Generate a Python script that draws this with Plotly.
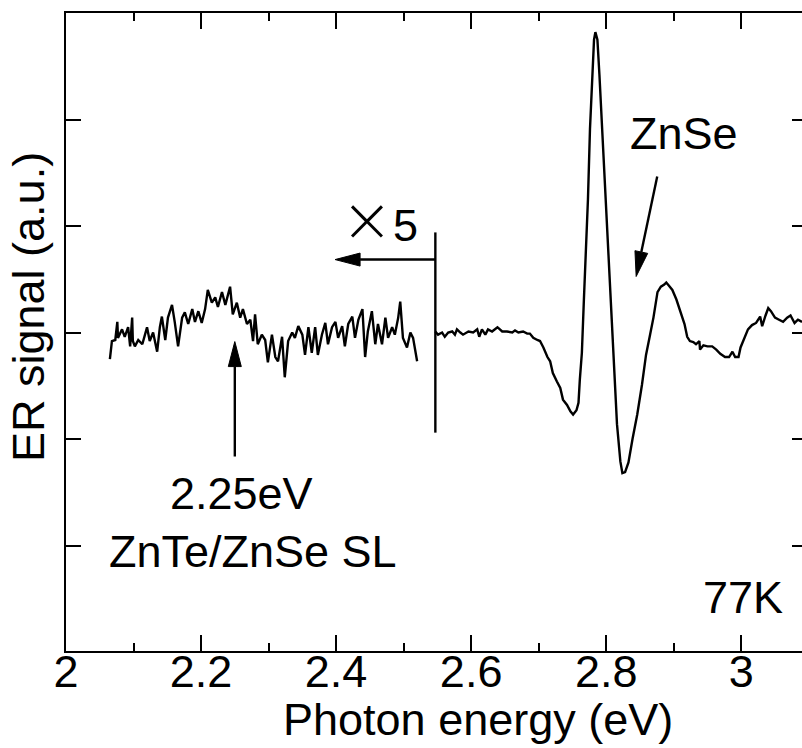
import plotly.graph_objects as go

# ---- data (photon energy in eV, ER signal in arbitrary units) ----
# low-energy part, shown magnified x5
sl_energy = [2.065, 2.068, 2.073, 2.076, 2.077, 2.083, 2.087, 2.092, 2.095, 2.098, 2.099, 2.102,
             2.107, 2.113, 2.117, 2.120, 2.124, 2.129, 2.135, 2.139, 2.142, 2.147, 2.151, 2.157,
             2.161, 2.166, 2.172, 2.176, 2.181, 2.187, 2.191, 2.196, 2.201, 2.206, 2.210, 2.216,
             2.221, 2.225, 2.231, 2.236, 2.243, 2.247, 2.253, 2.258, 2.262, 2.268, 2.273, 2.277,
             2.280, 2.284, 2.290, 2.295, 2.299, 2.305, 2.310, 2.314, 2.320, 2.324, 2.329, 2.335,
             2.339, 2.344, 2.350, 2.354, 2.359, 2.364, 2.369, 2.373, 2.379, 2.384, 2.388, 2.394,
             2.399, 2.403, 2.409, 2.413, 2.418, 2.424, 2.428, 2.433, 2.439, 2.443, 2.447, 2.453,
             2.458, 2.462, 2.468, 2.473, 2.477, 2.483, 2.487, 2.492, 2.495, 2.499, 2.505, 2.510,
             2.514, 2.520]
sl_signal = [-0.25, -0.08, -0.07, 0.10, -0.05, 0.03, -0.04, 0.05, -0.13, 0.14, -0.08, -0.13,
             -0.07, -0.11, -0.02, 0.05, -0.08, 0.00, -0.18, 0.05, 0.15, -0.07, 0.14, 0.26,
             0.10, -0.13, 0.14, 0.19, 0.08, 0.22, 0.10, 0.20, 0.09, 0.22, 0.40, 0.28,
             0.33, 0.24, 0.38, 0.26, 0.43, 0.17, 0.28, 0.14, 0.22, 0.08, 0.12, -0.08,
             0.17, -0.11, -0.02, -0.07, -0.28, -0.02, -0.23, -0.27, -0.04, -0.42, -0.08, 0.00,
             -0.05, 0.06, -0.02, -0.21, 0.05, -0.19, 0.05, -0.21, -0.02, 0.09, -0.11, 0.05,
             0.10, -0.05, 0.06, -0.13, 0.08, 0.15, -0.05, 0.12, 0.22, -0.23, 0.01, 0.20,
             -0.11, 0.08, -0.11, 0.14, -0.05, 0.05, -0.02, 0.14, 0.29, -0.05, -0.14, 0.00,
             -0.05, -0.27]

# ZnSe band-edge region, unscaled
znse_energy = [2.547, 2.551, 2.557, 2.561, 2.566, 2.572, 2.576, 2.579, 2.584, 2.588, 2.596, 2.603,
               2.609, 2.612, 2.616, 2.621, 2.625, 2.631, 2.639, 2.646, 2.653, 2.661, 2.665, 2.670,
               2.677, 2.683, 2.687, 2.692, 2.698, 2.702, 2.707, 2.713, 2.717, 2.721, 2.727, 2.732,
               2.736, 2.742, 2.747, 2.751, 2.756, 2.759, 2.761, 2.764, 2.767, 2.770, 2.773, 2.776,
               2.779, 2.782, 2.784, 2.787, 2.790, 2.794, 2.799, 2.803, 2.807, 2.812, 2.816, 2.821,
               2.824, 2.828, 2.833, 2.839, 2.846, 2.853, 2.859, 2.865, 2.870, 2.876, 2.881, 2.886,
               2.889, 2.893, 2.898, 2.904, 2.910, 2.916, 2.920, 2.924, 2.929, 2.933, 2.938, 2.939,
               2.944, 2.950, 2.957, 2.963, 2.969, 2.976, 2.982, 2.987, 2.991, 2.996, 2.999, 3.004,
               3.010, 3.016, 3.022, 3.028, 3.031, 3.036, 3.040, 3.044, 3.050, 3.056, 3.062, 3.068,
               3.073, 3.079, 3.084, 3.090]
znse_signal = [0.01, -0.02, 0.00, -0.04, 0.00, 0.01, -0.02, 0.03, 0.00, -0.02, 0.01, 0.00,
               0.03, -0.04, 0.03, -0.02, 0.03, 0.01, 0.05, 0.01, 0.01, 0.00, 0.02, 0.00,
               0.01, -0.01, -0.01, -0.05, -0.07, -0.08, -0.14, -0.23, -0.27, -0.38, -0.46, -0.52,
               -0.63, -0.68, -0.74, -0.77, -0.73, -0.66, -0.44, -0.19, 0.31, 0.78, 1.25, 1.91,
               2.38, 2.75, 2.82, 2.75, 2.42, 1.91, 1.34, 0.78, 0.22, -0.35, -0.86, -1.21,
               -1.32, -1.31, -1.22, -1.00, -0.77, -0.49, -0.21, -0.02, 0.14, 0.38, 0.43, 0.45,
               0.47, 0.44, 0.40, 0.31, 0.19, 0.08, -0.04, -0.08, -0.09, -0.11, -0.08, -0.16,
               -0.12, -0.13, -0.13, -0.16, -0.20, -0.23, -0.23, -0.18, -0.23, -0.23, -0.14, -0.07,
               0.03, 0.07, 0.09, 0.15, 0.06, 0.16, 0.23, 0.20, 0.14, 0.12, 0.10, 0.14,
               0.16, 0.09, 0.12, 0.10]

x_ticks = [2, 2.2, 2.4, 2.6, 2.8, 3]
x_ticktext = ["2", "2.2", "2.4", "2.6", "2.8", "3"]
y_ticks = [-2, -1, 0, 1, 2]

# ---- layout geometry ----
W, H = 802, 748
ML, MR, MT, MB = 66, 0, 13, 97
XR = [2.0, 3.09]
YR = [-2.99, 3.0]
XS = (W - ML - MR) / (XR[1] - XR[0])   # px per eV
YS = (H - MT - MB) / (YR[1] - YR[0])   # px per a.u.

FONT = "Liberation Sans, Arial, sans-serif"
FS = 45
LW = 2.4

fig = go.Figure()
fig.add_trace(go.Scatter(x=sl_energy, y=sl_signal, mode="lines",
                         line=dict(color="black", width=LW), showlegend=False))
fig.add_trace(go.Scatter(x=znse_energy, y=znse_signal, mode="lines", yaxis="y2",
                         line=dict(color="black", width=LW), showlegend=False))


def arrow(x0, y0, x1, y1, head_len=25, head_w=13):
    """line from (x0,y0) to tip (x1,y1) with a slender filled head (sizes in px)."""
    dxp = (x1 - x0) * XS
    dyp = (y1 - y0) * YS
    L = (dxp ** 2 + dyp ** 2) ** 0.5
    ux, uy = dxp / L, dyp / L
    bx, by = x1 - ux * head_len / XS, y1 - uy * head_len / YS
    px, py = -uy, ux
    v1 = (bx + px * head_w / 2 / XS, by + py * head_w / 2 / YS)
    v2 = (bx - px * head_w / 2 / XS, by - py * head_w / 2 / YS)
    fig.add_shape(type="line", xref="x", yref="y", x0=x0, y0=y0, x1=bx, y1=by,
                  line=dict(color="black", width=LW))
    fig.add_shape(type="path", xref="x", yref="y",
                  path=f"M {x1} {y1} L {v1[0]} {v1[1]} L {v2[0]} {v2[1]} Z",
                  fillcolor="black", line=dict(color="black", width=1))


# separator between x5 and x1 parts
fig.add_shape(type="line", xref="x", yref="y", x0=2.547, x1=2.547, y0=-0.94, y1=0.94,
              line=dict(color="black", width=LW))
arrow(2.547, 0.685, 2.3985, 0.685)        # x5 arrow
arrow(2.25, -1.164, 2.25, -0.085)         # 2.25 eV arrow
arrow(2.8756, 1.465, 2.8444, 0.526)       # ZnSe arrow

tf = dict(family=FONT, size=FS, color="black")
labels = [("<span style='font-size:62px;font-family:DejaVu Sans Light, DejaVu Sans'>\u00d7</span>5",
           2.465, 1.06),
          ("2.25eV", 2.26, -1.51),
          ("ZnTe/ZnSe SL", 2.277, -2.06),
          ("ZnSe", 2.915, 1.873),
          ("77K", 3.002, -2.49)]
for txt, x, y in labels:
    fig.add_annotation(text=txt, x=x, y=y, xref="x", yref="y", showarrow=False,
                       font=tf, xanchor="center", yanchor="middle")

# axis titles
fig.add_annotation(text="Photon energy (eV)", x=2 + (478 - ML) / XS, y=0, xref="x", yref="paper",
                   yshift=-(719 - (H - MB)), showarrow=False, font=tf,
                   xanchor="center", yanchor="middle")
fig.add_annotation(text="ER signal (a.u.)", x=0, y=(H - MB - 307) / (H - MT - MB),
                   xref="paper", yref="paper", xshift=-(ML - 28), textangle=-90,
                   showarrow=False, font=tf, xanchor="center", yanchor="middle")

axis_common = dict(showgrid=False, zeroline=False, linecolor="black", linewidth=LW,
                   ticks="inside", tickcolor="black", tickwidth=LW)

fig.update_layout(
    width=W, height=H,
    margin=dict(l=ML, r=MR, t=MT, b=MB, pad=0),
    paper_bgcolor="white", plot_bgcolor="white",
    font=dict(family=FONT, size=FS, color="black"),
    xaxis=dict(range=XR, tickvals=x_ticks, ticktext=x_ticktext,
               showline=True, mirror="ticks", ticklen=16, ticklabelstandoff=-20,
               minor=dict(dtick=0.1, tick0=2, ticks="inside", ticklen=8,
                          tickcolor="black", tickwidth=LW),
               tickfont=dict(family=FONT, size=FS, color="black"),
               **axis_common),
    yaxis=dict(range=YR, tickvals=y_ticks, showticklabels=False, showline=True,
               mirror=False, ticklen=15, **axis_common),
    yaxis2=dict(range=YR, tickvals=y_ticks, showticklabels=False, overlaying="y",
                side="right", showline=False, ticklen=10,
                showgrid=False, zeroline=False, ticks="inside", tickcolor="black",
                tickwidth=LW),
)

fig.write_html("out.html")
